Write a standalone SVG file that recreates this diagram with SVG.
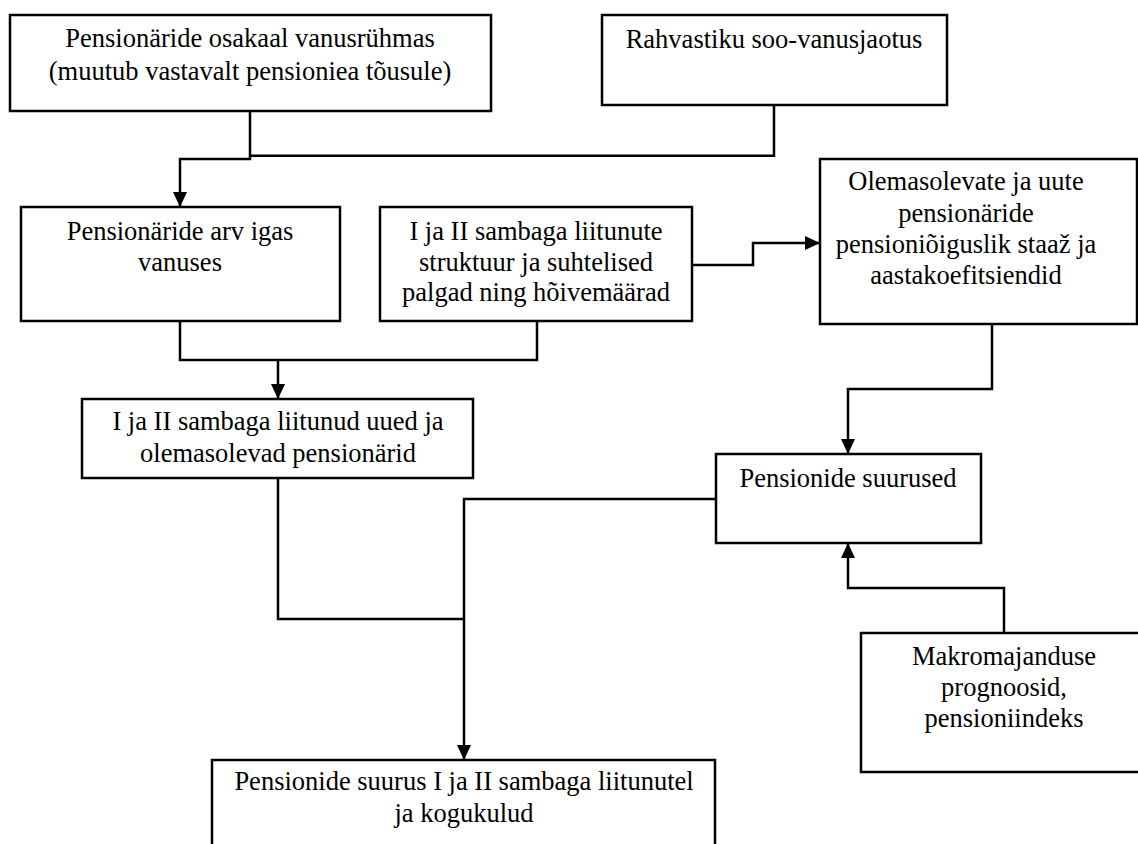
<svg xmlns="http://www.w3.org/2000/svg" width="1138" height="844" viewBox="0 0 1138 844">
<style>
.box{fill:#fff;stroke:#000;stroke-width:2.5}
.t{font-family:"Liberation Serif","Times New Roman",serif;font-size:26.5px;fill:#000;text-anchor:middle}
.c{fill:none;stroke:#000;stroke-width:2.5}
</style>
<defs>
<marker id="ah" viewBox="0 0 15 14" refX="15" refY="7" markerWidth="15" markerHeight="14" markerUnits="userSpaceOnUse" orient="auto">
<path d="M0,0 L15,7 L0,14 Z" fill="#000"/>
</marker>
</defs>
<rect width="1138" height="844" fill="#fff"/>
<g id="connectors">
<path class="c" d="M774,105 V155.7 H250"/>
<path class="c" d="M250,111 V159 H180 V207" marker-end="url(#ah)"/>
<path class="c" d="M180,321 V360 H537 V321"/>
<path class="c" d="M278,360 V399" marker-end="url(#ah)"/>
<path class="c" d="M692,265 H753 V243 H820" marker-end="url(#ah)"/>
<path class="c" d="M278,478 V619 H464"/>
<path class="c" d="M716,499 H464 V760" marker-end="url(#ah)"/>
<path class="c" d="M992,324 V389 H848 V454" marker-end="url(#ah)"/>
<path class="c" d="M1004,633 V588 H848 V543" marker-end="url(#ah)"/>
</g>
<g id="n1">
<rect class="box" x="10" y="15" width="481" height="96"/>
<text class="t" x="250" y="47">Pensionäride osakaal vanusrühmas</text>
<text class="t" x="250" y="80">(muutub vastavalt pensioniea tõusule)</text>
</g>
<g id="n2">
<rect class="box" x="602" y="15" width="345" height="90"/>
<text class="t" x="774" y="48">Rahvastiku soo-vanusjaotus</text>
</g>
<g id="n3">
<rect class="box" x="21" y="207" width="319" height="114"/>
<text class="t" x="180" y="240">Pensionäride arv igas</text>
<text class="t" x="180" y="271">vanuses</text>
</g>
<g id="n4">
<rect class="box" x="380" y="207" width="312" height="114"/>
<text class="t" x="536" y="240">I ja II sambaga liitunute</text>
<text class="t" x="536" y="270.5">struktuur ja suhtelised</text>
<text class="t" x="536" y="301">palgad ning hõivemäärad</text>
</g>
<g id="n5">
<rect class="box" x="820" y="159" width="317" height="165"/>
<text class="t" x="966" y="190">Olemasolevate ja uute</text>
<text class="t" x="966" y="221.5">pensionäride</text>
<text class="t" x="966" y="253">pensioniõiguslik staaž ja</text>
<text class="t" x="966" y="283.5">aastakoefitsiendid</text>
</g>
<g id="n6">
<rect class="box" x="82" y="399" width="391" height="79"/>
<text class="t" x="278" y="430">I ja II sambaga liitunud uued ja</text>
<text class="t" x="278" y="462">olemasolevad pensionärid</text>
</g>
<g id="n7">
<rect class="box" x="716" y="454" width="265" height="89"/>
<text class="t" x="848" y="487">Pensionide suurused</text>
</g>
<g id="n8">
<rect class="box" x="861" y="633" width="290" height="139"/>
<text class="t" x="1004" y="665">Makromajanduse</text>
<text class="t" x="1004" y="696">prognoosid,</text>
<text class="t" x="1004" y="727">pensioniindeks</text>
</g>
<g id="n9">
<rect class="box" x="212" y="760" width="503" height="100"/>
<text class="t" x="464" y="790">Pensionide suurus I ja II sambaga liitunutel</text>
<text class="t" x="464" y="822">ja kogukulud</text>
</g>
</svg>
